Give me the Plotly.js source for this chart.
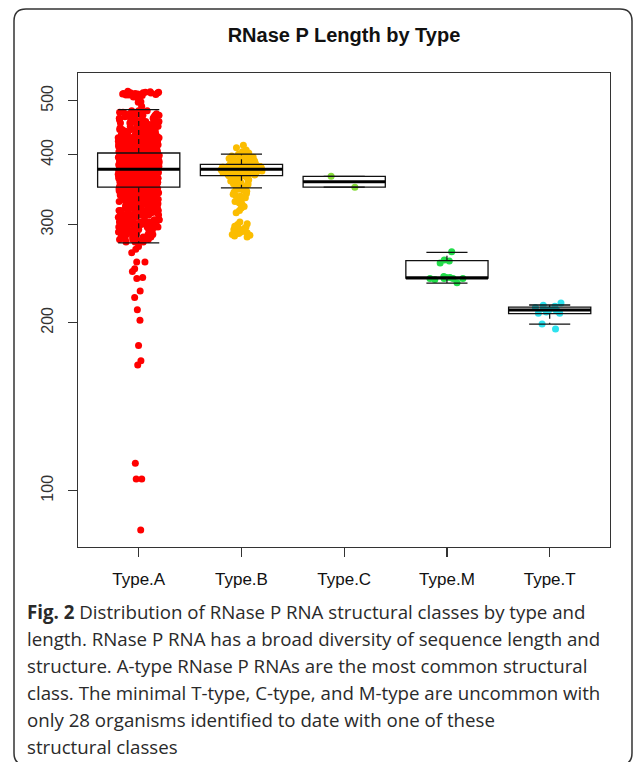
<!DOCTYPE html>
<html><head><meta charset="utf-8">
<script src="https://cdn.plot.ly/plotly-3.0.1.min.js"></script>
<style>html,body{margin:0;padding:0;background:#fff;}#chart{width:633px;height:762px;}</style>
</head><body><div id="chart"></div>
<script>
// ---------- data ----------
const categories = ['Type.A', 'Type.B', 'Type.C', 'Type.M', 'Type.T'];
const yTickVals = [100, 200, 300, 400, 500];
const yTickText = ['100', '200', '300', '400', '500'];

// box statistics (lengths, nt)
const boxQ1 = [350, 367, 350, 240.5, 207.6];
const boxMedian = [377, 376.7, 358, 240.5, 210.8];
const boxQ3 = [403, 384.6, 366, 258.4, 213.4];
const whiskerLow = [278, 349, 350, 235.6, 198.9];
const whiskerHigh = [482, 401, 366, 267.5, 215.2];

// Type.A: dense core as length bins with counts, plus individually visible outliers
const typeA_lengths = [279, 282, 285, 288, 291, 294, 297, 300, 303, 306, 309, 312, 315, 318, 321, 324, 327, 330, 333, 336,
  339, 342, 345, 348, 351, 354, 357, 360, 363, 366, 369, 372, 375, 378, 381, 384, 387, 390, 393, 396, 399, 402,
  405, 408, 411, 414, 417, 420, 423, 426, 429, 432, 435, 438, 441, 444, 447, 450, 453, 456, 459, 462, 465, 468, 471, 474, 477, 480];
const typeA_counts = [5, 5, 5, 5, 5, 6, 6, 7, 7, 7, 8, 8, 8, 8, 9, 9, 9, 10, 10, 10,
  11, 12, 12, 13, 19, 20, 21, 22, 22, 22, 23, 23, 23, 23, 23, 23, 22, 22, 22, 21, 20, 19,
  17, 16, 15, 14, 13, 12, 11, 10, 9, 8, 8, 7, 7, 6, 6, 5, 5, 5, 5, 5, 4, 4, 4, 4, 4, 4];
const typeA_other = [85, 105, 105, 112, 168, 171, 182, 202, 211, 222, 228, 240, 241, 247, 250, 257, 257, 267, 271, 274,
  489, 497, 498, 506, 508, 509, 510, 511, 512, 512, 513, 514, 514, 515, 515, 516, 516, 517, 517, 518, 518, 519, 520];

const typeB = [416, 412, 408, 405, 403,
  401, 400, 400, 399, 398, 398, 397, 396, 396, 395, 394, 394, 393, 392, 392, 391, 390, 390, 389, 389, 388, 388, 387, 387, 386, 386, 386, 385, 385, 385,
  384, 384, 384, 383, 383, 383, 383, 382, 382, 382, 382, 381, 381, 381, 381, 380, 380, 380, 380, 380, 379, 379, 379, 379, 379,
  378, 378, 378, 378, 378, 378, 377, 377, 377, 377, 377, 377, 377, 376, 376, 376, 376, 376, 376, 375, 375, 375, 375, 375,
  374, 374, 374, 374, 373, 373, 373, 373, 372, 372, 372, 371, 371, 371, 370, 370, 370, 369, 369, 368, 368, 367, 367,
  366, 365, 364, 363, 362, 361, 360, 359, 358, 357, 356, 355, 354, 352, 351, 349,
  347, 346, 344, 343, 341, 340, 338, 337, 335, 334, 332, 330, 328, 326, 323, 321, 318, 315,
  303, 301, 300, 298, 297, 296, 295, 294, 293, 292, 291, 290, 289, 288, 287, 286, 285];
const typeC = [366, 350];
const typeM = [268, 259, 256, 258, 242, 241, 240, 240, 239, 240, 236, 241, 240];
const typeT = [217, 215, 214, 213, 212, 211, 211, 210, 209, 208, 208, 199, 195];

const pointColors = ['#ff0000', '#fbbd00', '#86dc3a', '#22dd4a', '#2ee2ee'];

// ---------- build ----------
const typeA = [];
typeA_lengths.forEach((L, i) => { for (let k = 0; k < typeA_counts[i]; k++) typeA.push(L); });
typeA_other.forEach(v => typeA.push(v));
const groups = [typeA, typeB, typeC, typeM, typeT];

const PL = 78, PR = 610, PT = 73, PB = 547;
const W = 633, H = 762;
const px = x => (x - PL) / (PR - PL);
const py = y => (PB - y) / (PB - PT);
const LINE = '#111';

const traces = [];
groups.forEach((vals, i) => {
  traces.push({
    type: 'box', name: categories[i], x: vals.map(() => categories[i]), y: vals,
    boxpoints: 'all', jitter: 1, pointpos: 0, width: 0.4,
    fillcolor: 'rgba(0,0,0,0)', line: {width: 0, color: 'rgba(0,0,0,0)'},
    marker: {color: pointColors[i], size: 7, line: {width: 0}},
    hoverinfo: 'skip', showlegend: false
  });
});
// box body (no plotly whiskers)
traces.push({
  type: 'box', x: categories, q1: boxQ1, median: boxMedian, q3: boxQ3,
  lowerfence: boxQ1, upperfence: boxQ3, width: 0.8, whiskerwidth: 0,
  boxpoints: false, fillcolor: 'rgba(0,0,0,0)', line: {color: LINE, width: 1.3},
  hoverinfo: 'skip', showlegend: false
});
// whisker staples
[whiskerLow, whiskerHigh].forEach(arr => {
  traces.push({
    type: 'box', x: categories, q1: arr, median: arr, q3: arr, lowerfence: arr, upperfence: arr,
    width: 0.4, whiskerwidth: 0, boxpoints: false, fillcolor: 'rgba(0,0,0,0)',
    line: {color: LINE, width: 1.3}, hoverinfo: 'skip', showlegend: false
  });
});
// thick median
traces.push({
  type: 'box', x: categories, q1: boxMedian, median: boxMedian, q3: boxMedian,
  lowerfence: boxMedian, upperfence: boxMedian, width: 0.8, whiskerwidth: 0,
  boxpoints: false, fillcolor: 'rgba(0,0,0,0)', line: {color: '#000', width: 3},
  hoverinfo: 'skip', showlegend: false
});
// dashed whiskers
const wx = [], wy = [];
categories.forEach((c, i) => {
  wx.push(c, c, c, c, c, c);
  wy.push(boxQ3[i], whiskerHigh[i], null, boxQ1[i], whiskerLow[i], null);
});
traces.push({
  type: 'scatter', mode: 'lines', x: wx, y: wy, connectgaps: false,
  line: {color: LINE, width: 1.2, dash: '5px,4px'}, hoverinfo: 'skip', showlegend: false
});

const captionLines = [
  '<b>Fig. 2</b> Distribution of RNase P RNA structural classes by type and',
  'length. RNase P RNA has a broad diversity of sequence length and',
  'structure. A-type RNase P RNAs are the most common structural',
  'class. The minimal T-type, C-type, and M-type are uncommon with',
  'only 28 organisms identified to date with one of these',
  'structural classes'
];
const captionY = [611.5, 638.5, 665.5, 692.5, 719.5, 746.5];
const annotations = captionLines.map((t, i) => ({
  text: t, xref: 'paper', yref: 'paper', x: px(25), y: py(captionY[i]),
  xanchor: 'left', yanchor: 'middle', showarrow: false, align: 'left',
  font: {family: 'Open Sans, sans-serif', size: 18.7, color: '#2a2a2a'}
}));

const P = (x, y) => px(x).toFixed(5) + ',' + py(y).toFixed(5);
const fl = 14, fr = 632, ft = 9, fb = 765, rr = 12;
const framePath = 'M' + P(fl, ft + rr) + ' Q' + P(fl, ft) + ' ' + P(fl + rr, ft) +
  ' L' + P(fr - rr, ft) + ' Q' + P(fr, ft) + ' ' + P(fr, ft + rr) +
  ' L' + P(fr, fb - rr) + ' Q' + P(fr, fb) + ' ' + P(fr - rr, fb) +
  ' L' + P(fl + rr, fb) + ' Q' + P(fl, fb) + ' ' + P(fl, fb - rr) + ' Z';

const layout = {
  width: W, height: H, margin: {l: PL, r: W - PR, t: PT, b: H - PB, pad: 0},
  paper_bgcolor: '#fff', plot_bgcolor: '#fff', showlegend: false, boxmode: 'overlay',
  title: {text: '<b>RNase P Length by Type</b>', x: px(344), xanchor: 'center', xref: 'paper',
    y: 1 - 35 / H, yref: 'container', yanchor: 'middle',
    font: {family: 'Liberation Sans, Arial, sans-serif', size: 20, color: '#111'}},
  xaxis: {type: 'category', categoryorder: 'array', categoryarray: categories,
    range: [-0.591, 4.587], showgrid: false, zeroline: false,
    showline: true, mirror: true, linecolor: '#333', linewidth: 1.2,
    ticks: 'outside', ticklen: 9, tickcolor: '#333', tickwidth: 1.2, ticklabelstandoff: 7,
    tickfont: {family: 'Liberation Sans, Arial, sans-serif', size: 17, color: '#111'}},
  yaxis: {type: 'log', range: [1.8991, 2.7487], tickvals: yTickVals, ticktext: yTickText,
    tickangle: -90, showgrid: false, zeroline: false,
    showline: true, mirror: true, linecolor: '#333', linewidth: 1.2,
    ticks: 'outside', ticklen: 9, tickcolor: '#333', tickwidth: 1.2, ticklabelstandoff: 8,
    tickfont: {family: 'Liberation Sans, Arial, sans-serif', size: 16, color: '#333'}},
  annotations: annotations,
  shapes: [{type: 'path', xref: 'paper', yref: 'paper', path: framePath,
    line: {color: '#333', width: 1.5}, fillcolor: 'rgba(0,0,0,0)', layer: 'above'}]
};

Plotly.newPlot('chart', traces, layout, {staticPlot: true, displayModeBar: false});
</script>
</body></html>
